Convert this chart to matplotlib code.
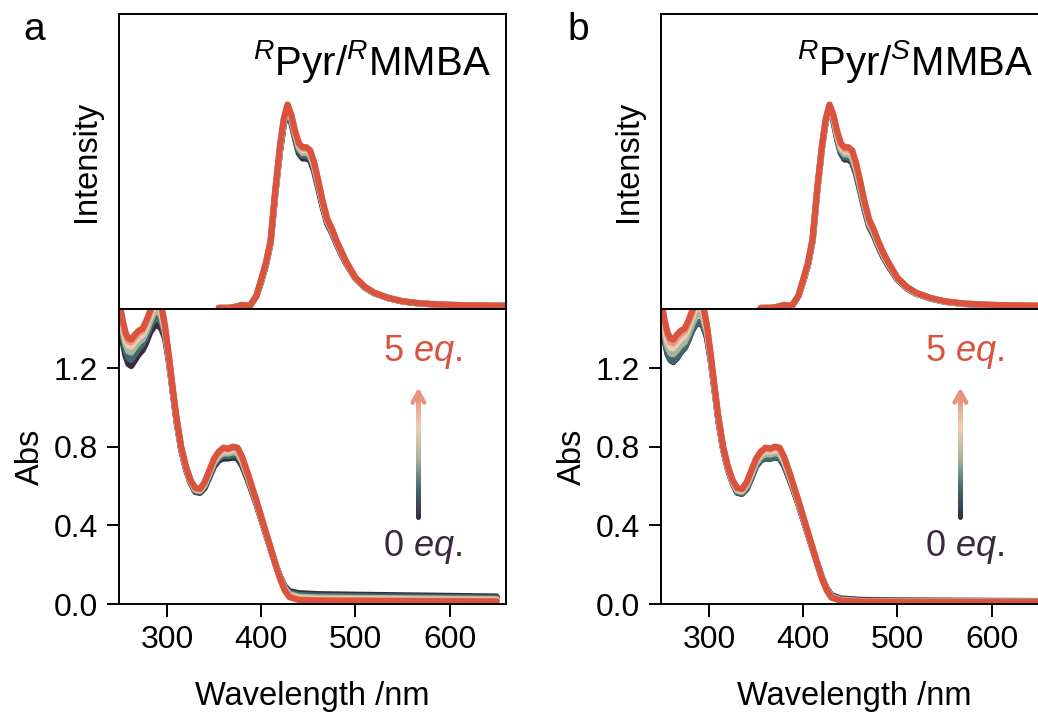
import numpy as np
import matplotlib
matplotlib.use("Agg")
import matplotlib.pyplot as plt
from matplotlib.collections import LineCollection
from matplotlib.colors import LinearSegmentedColormap

plt.rcParams['font.family'] = ['Liberation Sans', 'DejaVu Sans']
plt.rcParams['mathtext.fontset'] = 'custom'
plt.rcParams['mathtext.rm'] = 'Liberation Sans'
plt.rcParams['mathtext.it'] = 'Liberation Sans:italic'
plt.rcParams['mathtext.bf'] = 'Liberation Sans:bold'

# ---------------- data ----------------
equivalents = ['0', '1', '2', '3', '4', '5']
colors = ['#3b2a3e', '#3f6a6c', '#a6b5a0', '#eccfb2', '#e99a84', '#d9533e']

wl_abs = [250, 253, 256, 259, 262, 266, 270, 274, 278, 282, 286, 290, 294, 298, 302, 306, 310, 315,
          320, 325, 330, 335, 340, 345, 350, 355, 360, 365, 370, 375, 380, 385, 390, 395, 400, 405,
          410, 415, 420, 425, 430, 440, 460, 500, 550, 600, 650]

# Panel a: RPyr/RMMBA absorbance
abs_a_0 = [1.45, 1.33, 1.26, 1.22, 1.21, 1.24, 1.27, 1.29, 1.33, 1.38, 1.41, 1.42, 1.40, 1.35, 1.23, 1.08, 0.93, 0.785,
           0.685, 0.615, 0.57, 0.565, 0.59, 0.645, 0.70, 0.73, 0.74, 0.74, 0.745, 0.74, 0.70, 0.64, 0.575, 0.505, 0.43, 0.355,
           0.28, 0.205, 0.14, 0.09, 0.065, 0.055, 0.05, 0.047, 0.044, 0.041, 0.038]
abs_a_1 = [1.47, 1.36, 1.29, 1.25, 1.24, 1.27, 1.30, 1.32, 1.36, 1.41, 1.445, 1.46, 1.43, 1.365, 1.24, 1.085, 0.935, 0.79,
           0.69, 0.62, 0.575, 0.57, 0.597, 0.654, 0.71, 0.741, 0.754, 0.752, 0.759, 0.754, 0.711, 0.649, 0.581, 0.51, 0.434, 0.357,
           0.281, 0.205, 0.138, 0.085, 0.058, 0.046, 0.042, 0.039, 0.037, 0.034, 0.032]
abs_a_2 = [1.485, 1.385, 1.32, 1.285, 1.278, 1.305, 1.33, 1.345, 1.385, 1.435, 1.48, 1.495, 1.46, 1.38, 1.245, 1.09, 0.94, 0.792,
           0.692, 0.622, 0.58, 0.575, 0.605, 0.662, 0.72, 0.752, 0.767, 0.765, 0.772, 0.767, 0.722, 0.657, 0.587, 0.515, 0.437, 0.36,
           0.282, 0.205, 0.135, 0.08, 0.05, 0.037, 0.033, 0.031, 0.029, 0.027, 0.025]
abs_a_3 = [1.50, 1.41, 1.345, 1.315, 1.307, 1.334, 1.356, 1.369, 1.41, 1.46, 1.51, 1.528, 1.486, 1.393, 1.252, 1.094, 0.944, 0.796,
           0.696, 0.626, 0.584, 0.579, 0.612, 0.67, 0.729, 0.762, 0.78, 0.776, 0.785, 0.78, 0.732, 0.665, 0.593, 0.519, 0.44, 0.362,
           0.284, 0.205, 0.133, 0.076, 0.044, 0.03, 0.026, 0.024, 0.023, 0.021, 0.020]
abs_a_4 = [1.51, 1.43, 1.365, 1.334, 1.329, 1.354, 1.376, 1.387, 1.427, 1.477, 1.533, 1.552, 1.506, 1.403, 1.256, 1.098, 0.948, 0.798,
           0.698, 0.628, 0.588, 0.583, 0.616, 0.676, 0.735, 0.77, 0.788, 0.784, 0.793, 0.788, 0.74, 0.671, 0.597, 0.523, 0.443, 0.364,
           0.285, 0.205, 0.131, 0.072, 0.039, 0.024, 0.021, 0.019, 0.018, 0.017, 0.016]
abs_a_5 = [1.52, 1.44, 1.38, 1.35, 1.345, 1.37, 1.39, 1.40, 1.44, 1.49, 1.55, 1.57, 1.52, 1.41, 1.26, 1.10, 0.95, 0.80,
           0.70, 0.63, 0.59, 0.585, 0.62, 0.68, 0.74, 0.775, 0.795, 0.79, 0.80, 0.795, 0.745, 0.675, 0.60, 0.525, 0.445, 0.365,
           0.285, 0.205, 0.13, 0.07, 0.035, 0.02, 0.017, 0.016, 0.015, 0.014, 0.013]

# Panel b: RPyr/SMMBA absorbance
abs_b_0 = [1.44, 1.34, 1.27, 1.24, 1.23, 1.25, 1.28, 1.30, 1.34, 1.39, 1.42, 1.43, 1.41, 1.35, 1.23, 1.08, 0.93, 0.785,
           0.685, 0.615, 0.565, 0.56, 0.585, 0.64, 0.70, 0.73, 0.74, 0.738, 0.745, 0.74, 0.70, 0.64, 0.575, 0.505, 0.43, 0.355,
           0.28, 0.205, 0.135, 0.08, 0.045, 0.028, 0.021, 0.018, 0.017, 0.016, 0.015]
abs_b_1 = [1.45, 1.345, 1.275, 1.245, 1.235, 1.255, 1.285, 1.305, 1.345, 1.395, 1.425, 1.435, 1.415, 1.355, 1.235, 1.083, 0.932, 0.787,
           0.687, 0.617, 0.567, 0.562, 0.587, 0.643, 0.703, 0.733, 0.743, 0.741, 0.748, 0.743, 0.703, 0.643, 0.577, 0.507, 0.432, 0.357,
           0.281, 0.205, 0.134, 0.078, 0.042, 0.025, 0.018, 0.016, 0.015, 0.014, 0.014]
abs_b_2 = [1.47, 1.37, 1.305, 1.275, 1.27, 1.29, 1.315, 1.33, 1.37, 1.42, 1.465, 1.48, 1.45, 1.375, 1.243, 1.088, 0.938, 0.79,
           0.69, 0.62, 0.575, 0.57, 0.6, 0.656, 0.715, 0.748, 0.762, 0.76, 0.767, 0.762, 0.718, 0.654, 0.585, 0.513, 0.436, 0.359,
           0.282, 0.205, 0.133, 0.075, 0.038, 0.021, 0.015, 0.013, 0.013, 0.012, 0.012]
abs_b_3 = [1.49, 1.40, 1.335, 1.305, 1.30, 1.325, 1.348, 1.362, 1.405, 1.455, 1.505, 1.523, 1.483, 1.39, 1.25, 1.093, 0.943, 0.795,
           0.695, 0.625, 0.582, 0.577, 0.61, 0.668, 0.728, 0.762, 0.778, 0.775, 0.783, 0.778, 0.73, 0.664, 0.592, 0.518, 0.44, 0.362,
           0.284, 0.205, 0.132, 0.073, 0.036, 0.019, 0.014, 0.012, 0.012, 0.011, 0.011]
abs_b_4 = [1.505, 1.425, 1.36, 1.33, 1.325, 1.35, 1.372, 1.384, 1.425, 1.475, 1.53, 1.55, 1.505, 1.402, 1.255, 1.097, 0.947, 0.798,
           0.698, 0.628, 0.587, 0.582, 0.616, 0.676, 0.735, 0.77, 0.788, 0.784, 0.793, 0.788, 0.74, 0.671, 0.597, 0.523, 0.443, 0.364,
           0.285, 0.205, 0.131, 0.071, 0.034, 0.018, 0.013, 0.012, 0.011, 0.011, 0.010]
abs_b_5 = [1.52, 1.44, 1.38, 1.35, 1.345, 1.37, 1.39, 1.40, 1.44, 1.49, 1.55, 1.57, 1.52, 1.41, 1.26, 1.10, 0.95, 0.80,
           0.70, 0.63, 0.59, 0.585, 0.62, 0.68, 0.74, 0.775, 0.795, 0.79, 0.80, 0.795, 0.745, 0.675, 0.60, 0.525, 0.445, 0.365,
           0.285, 0.205, 0.13, 0.07, 0.033, 0.017, 0.012, 0.011, 0.011, 0.010, 0.010]

wl_fl = [355, 365, 372, 380, 388, 395, 400, 405, 410, 415, 420, 424, 428, 432, 436, 440, 444, 448, 452, 456,
         460, 465, 470, 475, 480, 485, 490, 500, 510, 520, 535, 550, 570, 600, 630, 660]

# Panel a fluorescence (normalised)
fl_a_0 = [0.0, 0.0, 0.005, 0.014, 0.01, 0.06, 0.13, 0.21, 0.32, 0.56, 0.77, 0.90, 0.965, 0.91, 0.83, 0.76, 0.735, 0.735, 0.725, 0.675,
          0.60, 0.50, 0.415, 0.37, 0.315, 0.265, 0.22, 0.145, 0.10, 0.072, 0.048, 0.032, 0.021, 0.015, 0.012, 0.01]
fl_a_1 = [0.0, 0.0, 0.005, 0.014, 0.01, 0.06, 0.132, 0.212, 0.322, 0.565, 0.777, 0.907, 0.974, 0.92, 0.84, 0.772, 0.748, 0.748, 0.737, 0.686,
          0.61, 0.508, 0.421, 0.375, 0.319, 0.269, 0.222, 0.146, 0.101, 0.073, 0.048, 0.032, 0.021, 0.015, 0.012, 0.01]
fl_a_2 = [0.0, 0.0, 0.005, 0.014, 0.01, 0.06, 0.135, 0.215, 0.325, 0.57, 0.785, 0.915, 0.982, 0.93, 0.85, 0.785, 0.762, 0.762, 0.75, 0.697,
          0.62, 0.515, 0.428, 0.38, 0.322, 0.272, 0.225, 0.147, 0.102, 0.074, 0.049, 0.033, 0.022, 0.015, 0.012, 0.01]
fl_a_3 = [0.0, 0.0, 0.005, 0.015, 0.01, 0.06, 0.137, 0.217, 0.327, 0.575, 0.792, 0.922, 0.99, 0.94, 0.86, 0.797, 0.775, 0.775, 0.762, 0.708,
          0.63, 0.522, 0.434, 0.385, 0.326, 0.276, 0.228, 0.148, 0.103, 0.074, 0.049, 0.033, 0.022, 0.015, 0.012, 0.01]
fl_a_4 = [0.0, 0.0, 0.005, 0.015, 0.01, 0.06, 0.139, 0.219, 0.329, 0.578, 0.797, 0.927, 0.996, 0.945, 0.865, 0.804, 0.783, 0.783, 0.769, 0.714,
          0.635, 0.526, 0.437, 0.388, 0.328, 0.278, 0.229, 0.149, 0.104, 0.075, 0.05, 0.033, 0.022, 0.015, 0.012, 0.01]
fl_a_5 = [0.0, 0.0, 0.005, 0.015, 0.01, 0.06, 0.14, 0.22, 0.33, 0.58, 0.80, 0.93, 1.0, 0.95, 0.87, 0.81, 0.79, 0.79, 0.775, 0.72,
          0.64, 0.53, 0.44, 0.39, 0.33, 0.28, 0.23, 0.15, 0.105, 0.075, 0.05, 0.033, 0.022, 0.015, 0.012, 0.01]

# Panel b fluorescence (normalised)
fl_b_0 = [0.0, 0.0, 0.005, 0.014, 0.01, 0.06, 0.13, 0.21, 0.33, 0.58, 0.79, 0.92, 0.985, 0.92, 0.83, 0.76, 0.73, 0.73, 0.715, 0.66,
          0.585, 0.485, 0.40, 0.355, 0.30, 0.25, 0.21, 0.14, 0.097, 0.07, 0.047, 0.031, 0.02, 0.014, 0.011, 0.01]
fl_b_1 = [0.0, 0.0, 0.005, 0.014, 0.01, 0.06, 0.13, 0.21, 0.33, 0.58, 0.79, 0.92, 0.985, 0.925, 0.835, 0.765, 0.74, 0.74, 0.725, 0.668,
          0.592, 0.49, 0.405, 0.36, 0.304, 0.253, 0.212, 0.141, 0.098, 0.071, 0.047, 0.031, 0.02, 0.014, 0.011, 0.01]
fl_b_2 = [0.0, 0.0, 0.005, 0.014, 0.01, 0.06, 0.133, 0.213, 0.332, 0.582, 0.793, 0.923, 0.99, 0.932, 0.845, 0.778, 0.755, 0.755, 0.74, 0.683,
          0.605, 0.502, 0.415, 0.368, 0.31, 0.26, 0.218, 0.144, 0.1, 0.072, 0.048, 0.032, 0.021, 0.015, 0.012, 0.01]
fl_b_3 = [0.0, 0.0, 0.005, 0.015, 0.01, 0.06, 0.136, 0.216, 0.335, 0.585, 0.796, 0.926, 0.994, 0.94, 0.856, 0.792, 0.77, 0.77, 0.755, 0.698,
          0.62, 0.515, 0.425, 0.377, 0.318, 0.266, 0.223, 0.146, 0.102, 0.073, 0.049, 0.032, 0.021, 0.015, 0.012, 0.01]
fl_b_4 = [0.0, 0.0, 0.005, 0.015, 0.01, 0.06, 0.138, 0.218, 0.337, 0.588, 0.798, 0.928, 0.997, 0.946, 0.864, 0.802, 0.78, 0.78, 0.765, 0.708,
          0.63, 0.522, 0.432, 0.382, 0.322, 0.27, 0.226, 0.148, 0.103, 0.074, 0.049, 0.033, 0.022, 0.015, 0.012, 0.01]
fl_b_5 = [0.0, 0.0, 0.005, 0.015, 0.01, 0.06, 0.14, 0.22, 0.34, 0.59, 0.80, 0.93, 1.0, 0.95, 0.87, 0.81, 0.79, 0.79, 0.775, 0.715,
          0.635, 0.525, 0.435, 0.385, 0.325, 0.272, 0.228, 0.149, 0.104, 0.075, 0.05, 0.033, 0.022, 0.015, 0.012, 0.01]

abs_a = [abs_a_0, abs_a_1, abs_a_2, abs_a_3, abs_a_4, abs_a_5]
abs_b = [abs_b_0, abs_b_1, abs_b_2, abs_b_3, abs_b_4, abs_b_5]
fl_a = [fl_a_0, fl_a_1, fl_a_2, fl_a_3, fl_a_4, fl_a_5]
fl_b = [fl_b_0, fl_b_1, fl_b_2, fl_b_3, fl_b_4, fl_b_5]

panel_letters = ['a', 'b']
titles = [r'$^{R}$Pyr/$^{R}$MMBA', r'$^{R}$Pyr/$^{S}$MMBA']
x_ticks = [300, 400, 500, 600]
y_ticks = [0.0, 0.4, 0.8, 1.2]

# ---------------- figure ----------------
W, H = 1038, 713
fig = plt.figure(figsize=(W / 100, H / 100), dpi=100)

lefts = [119 / W, 661 / W]
aw = 387 / W
ah = 295 / H
bot_bottom = (H - 604) / H
top_bottom = (H - 309) / H

arrow_cmap = LinearSegmentedColormap.from_list(
    'eq', ['#3b2a3e', '#3f6a6c', '#a9b59c', '#ecd0b2', '#e8937d'])

lw_spine = 1.4
for i in range(2):
    axt = fig.add_axes([lefts[i], top_bottom, aw, ah])
    axb = fig.add_axes([lefts[i], bot_bottom, aw, ah])
    fl = fl_a if i == 0 else fl_b
    ab = abs_a if i == 0 else abs_b
    for k in range(len(equivalents)):
        axt.plot(wl_fl, fl[k], color=colors[k], lw=4.5, solid_capstyle='round', solid_joinstyle='round')
        axb.plot(wl_abs, ab[k], color=colors[k], lw=4.5, solid_capstyle='round', solid_joinstyle='round')

    for ax in (axt, axb):
        ax.set_xlim(249, 660)
        for s in ax.spines.values():
            s.set_linewidth(lw_spine)
    axt.set_ylim(-0.005, 1.445)
    axt.set_xticks([])
    axt.set_yticks([])
    axt.set_ylabel('Intensity', fontsize=23.5, labelpad=12)
    axt.text(0.962, 0.84, titles[i], transform=axt.transAxes, ha='right', va='center', fontsize=29)

    axb.set_ylim(0, 1.5)
    axb.set_xticks(x_ticks)
    axb.set_yticks(y_ticks)
    axb.set_yticklabels([f'{v:.1f}' for v in y_ticks])
    axb.tick_params(direction='out', length=9, width=lw_spine, labelsize=23, pad=6)
    axb.set_xlabel('Wavelength /nm', fontsize=23.5, labelpad=19)
    axb.set_ylabel('Abs', fontsize=23.5, labelpad=6)

    # gradient arrow
    ax_x = 567
    ys = np.linspace(0.44, 1.07, 60)
    pts = np.array([[ax_x, y] for y in ys]).reshape(-1, 1, 2)
    segs = np.concatenate([pts[:-1], pts[1:]], axis=1)
    lc = LineCollection(segs, cmap=arrow_cmap, linewidths=3.6, capstyle='round')
    lc.set_array(np.linspace(0, 1, len(segs)))
    axb.add_collection(lc)
    axb.annotate('', xy=(ax_x, 1.10), xytext=(ax_x, 1.03),
                 arrowprops=dict(arrowstyle='->,head_length=0.75,head_width=0.42',
                                 color='#e8937d', lw=3.2, shrinkA=0, shrinkB=0))
    axb.text(571, 1.28, r'5 $\it{eq.}$', color=colors[5], fontsize=26, ha='center', va='center')
    axb.text(571, 0.29, r'0 $\it{eq.}$', color=colors[0], fontsize=26, ha='center', va='center')

    fig.text([34 / W, 578 / W][i], 1 - 30 / H, panel_letters[i], fontsize=28, ha='center', va='center')

fig.savefig('out.png', dpi=100)
